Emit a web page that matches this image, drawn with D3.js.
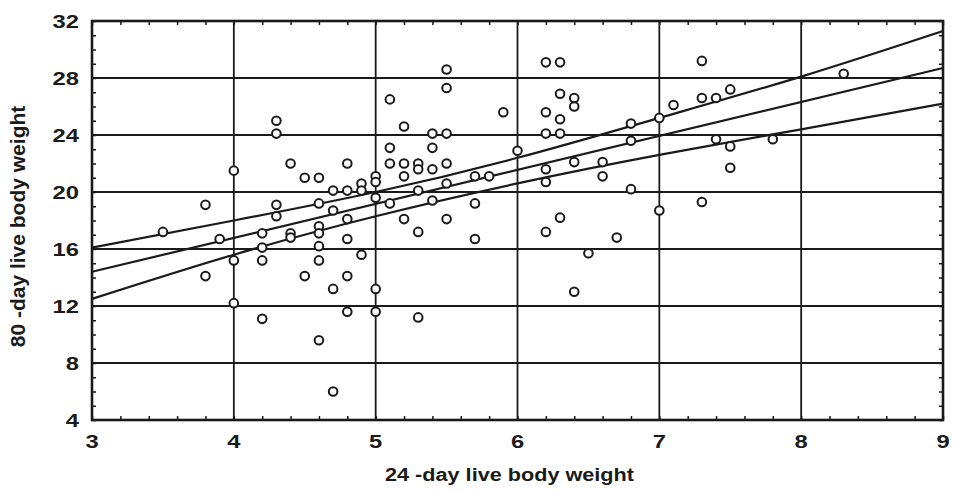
<!DOCTYPE html>
<html>
<head>
<meta charset="utf-8">
<script src="https://cdn.jsdelivr.net/npm/d3@7"></script>
<style>
  body { margin: 0; background: #fff; }
  text { font-family: "Liberation Sans", Arial, sans-serif; font-weight: bold; fill: #1a1a1a; }
</style>
</head>
<body>
<div id="chart"></div>
<script>
// 24-day weight (x) and 80-day weight (y) of each animal
var weight24 = [3.5, 3.8, 3.8, 3.9, 4.0, 4.0, 4.0, 4.2, 4.2, 4.2, 4.2, 4.3, 4.3, 4.3, 4.3,
  4.4, 4.4, 4.4, 4.5, 4.5, 4.6, 4.6, 4.6, 4.6, 4.6, 4.6, 4.6, 4.7, 4.7, 4.7, 4.7,
  4.8, 4.8, 4.8, 4.8, 4.8, 4.8, 4.9, 4.9, 4.9, 5.0, 5.0, 5.0, 5.0, 5.0,
  5.1, 5.1, 5.1, 5.1, 5.2, 5.2, 5.2, 5.2, 5.3, 5.3, 5.3, 5.3, 5.3,
  5.4, 5.4, 5.4, 5.4, 5.5, 5.5, 5.5, 5.5, 5.5, 5.5, 5.7, 5.7, 5.7, 5.8, 5.9, 6.0,
  6.2, 6.2, 6.2, 6.2, 6.2, 6.2, 6.3, 6.3, 6.3, 6.3, 6.3, 6.4, 6.4, 6.4, 6.4,
  6.5, 6.6, 6.6, 6.7, 6.8, 6.8, 6.8, 7.0, 7.0, 7.1, 7.3, 7.3, 7.3, 7.4, 7.4,
  7.5, 7.5, 7.5, 7.8, 8.3];
var weight80 = [17.2, 19.1, 14.1, 16.7, 21.5, 15.2, 12.2, 17.1, 16.1, 15.2, 11.1, 25.0, 24.1, 19.1, 18.3,
  22.0, 17.1, 16.8, 21.0, 14.1, 21.0, 19.2, 17.6, 17.1, 16.2, 15.2, 9.6, 20.1, 18.7, 13.2, 6.0,
  22.0, 20.1, 18.1, 16.7, 14.1, 11.6, 20.6, 20.1, 15.6, 21.1, 20.7, 19.6, 13.2, 11.6,
  26.5, 23.1, 22.0, 19.2, 24.6, 22.0, 21.1, 18.1, 22.0, 21.6, 20.1, 17.2, 11.2,
  24.1, 23.1, 21.6, 19.4, 28.6, 27.3, 24.1, 22.0, 20.6, 18.1, 21.1, 19.2, 16.7, 21.1, 25.6, 22.9,
  29.1, 25.6, 24.1, 21.6, 20.7, 17.2, 29.1, 26.9, 25.1, 24.1, 18.2, 26.6, 26.0, 22.1, 13.0,
  15.7, 22.1, 21.1, 16.8, 24.8, 23.6, 20.2, 25.2, 18.7, 26.1, 29.2, 26.6, 19.3, 26.6, 23.7,
  27.2, 23.2, 21.7, 23.7, 28.3];

var fitX = [3, 9];
var fitY = [14.4, 28.7];
var bandX = [3, 4, 5, 6, 7, 8, 9];
var bandUpper = [16.1, 18.0, 20.0, 22.4, 25.2, 28.1, 31.3];
var bandLower = [12.5, 15.6, 18.3, 20.6, 22.6, 24.4, 26.2];

var xTicks = [3, 4, 5, 6, 7, 8, 9];
var yTicks = [4, 8, 12, 16, 20, 24, 28, 32];

var ink = "#1a1a1a";
var margin = {top: 21, right: 10, bottom: 70, left: 92},
    width = 943 - margin.left,
    height = 420 - margin.top;

var svg = d3.select("#chart")
    .append("svg")
    .attr("width", 953)
    .attr("height", 490)
    .append("g")
    .attr("transform", "translate(" + margin.left + "," + margin.top + ")");

var x = d3.scaleLinear().domain([3, 9]).range([0, width]);
var y = d3.scaleLinear().domain([4, 32]).range([height, 0]);

// grid
svg.append("g")
  .selectAll("line")
  .data(xTicks)
  .enter()
  .append("line")
    .attr("x1", function(d) { return x(d); })
    .attr("x2", function(d) { return x(d); })
    .attr("y1", 0)
    .attr("y2", height)
    .attr("stroke", ink)
    .attr("stroke-width", 1.8);

svg.append("g")
  .selectAll("line")
  .data(yTicks)
  .enter()
  .append("line")
    .attr("x1", 0)
    .attr("x2", width)
    .attr("y1", function(d) { return y(d); })
    .attr("y2", function(d) { return y(d); })
    .attr("stroke", ink)
    .attr("stroke-width", 1.8);

// small inward ticks on all four sides
var xMinor = d3.range(30, 91, 2).map(function(d) { return d / 10; });
var yMinor = d3.range(4, 33, 1);
svg.append("g").call(d3.axisBottom(x).tickValues(xMinor).tickSize(-4).tickFormat(""))
  .attr("transform", "translate(0," + height + ")");
svg.append("g").call(d3.axisTop(x).tickValues(xMinor).tickSize(-4).tickFormat(""));
svg.append("g").call(d3.axisLeft(y).tickValues(yMinor).tickSize(-4).tickFormat(""));
svg.append("g").call(d3.axisRight(y).tickValues(yMinor).tickSize(-4).tickFormat(""))
  .attr("transform", "translate(" + width + ",0)");
svg.selectAll(".domain").remove();
svg.selectAll(".tick line").attr("stroke", ink).attr("stroke-width", 1.5);

// frame
svg.append("rect")
  .attr("width", width)
  .attr("height", height)
  .attr("fill", "none")
  .attr("stroke", ink)
  .attr("stroke-width", 2.6);

// tick labels (the scan is stretched sideways, so the glyphs are too)
svg.append("g")
  .selectAll("text")
  .data(xTicks)
  .enter()
  .append("text")
    .attr("transform", function(d) { return "translate(" + x(d) + "," + (height + 28) + ") scale(1.25,1)"; })
    .attr("text-anchor", "middle")
    .style("font-size", "19px")
    .text(function(d) { return d; });

svg.append("g")
  .selectAll("text")
  .data(yTicks)
  .enter()
  .append("text")
    .attr("transform", function(d) { return "translate(-13," + (y(d) + 7) + ") scale(1.25,1)"; })
    .attr("text-anchor", "end")
    .style("font-size", "19px")
    .text(function(d) { return d; });

// band + fit
var bandLine = d3.line().curve(d3.curveNatural)
  .x(function(d) { return x(d[0]); })
  .y(function(d) { return y(d[1]); });

[d3.zip(bandX, bandUpper), d3.zip(bandX, bandLower), d3.zip(fitX, fitY)].forEach(function(pts) {
  svg.append("path")
    .datum(pts)
    .attr("fill", "none")
    .attr("stroke", ink)
    .attr("stroke-width", 2.2)
    .attr("d", bandLine);
});

// points
svg.append("g")
  .selectAll("circle")
  .data(d3.zip(weight24, weight80))
  .enter()
  .append("circle")
    .attr("cx", function(d) { return x(d[0]); })
    .attr("cy", function(d) { return y(d[1]); })
    .attr("r", 4.3)
    .attr("fill", "#fff")
    .attr("stroke", ink)
    .attr("stroke-width", 2);

// axis titles
svg.append("text")
  .attr("transform", "translate(" + (x(6) - 8) + "," + (height + 61) + ") scale(1.14,1)")
  .attr("text-anchor", "middle")
  .style("font-size", "19px")
  .text("24 -day live body weight");

svg.append("text")
  .attr("transform", "translate(-67," + (height / 2 + 6) + ") rotate(-90)")
  .attr("text-anchor", "middle")
  .style("font-size", "21px")
  .text("80 -day live body weight");
</script>
</body>
</html>
